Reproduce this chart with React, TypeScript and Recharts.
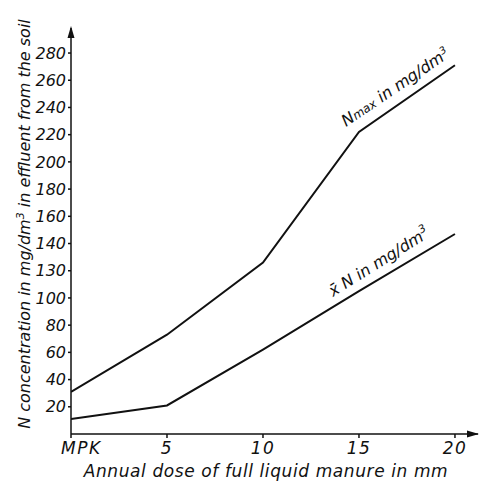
import React from 'react';
import { LineChart, Line, XAxis, YAxis } from 'recharts';

const doses = [0, 5, 10, 15, 20];
const nMax = [31, 73, 126, 222, 271];
const nMean = [11, 21, 62, 105, 147];
const xTickValues = [0, 5, 10, 15, 20];
const xTickLabels = ['MPK', '5', '10', '15', '20'];
const yTickValues = [20, 40, 60, 80, 100, 120, 140, 160, 180, 200, 220, 240, 260, 280];
const yTickLabels = ['20', '40', '60', '80', '100', '130', '140', '160', '180', '200', '220', '240', '260', '280'];

const data = doses.map((d, i) => ({ dose: d, nMax: nMax[i], nMean: nMean[i] }));

const FONT = '"DejaVu Sans", sans-serif';

const XTick = (props: any) => {
  const { x, y, payload } = props;
  const idx = xTickValues.indexOf(payload.value);
  const label = xTickLabels[idx];
  const isFirst = idx === 0;
  return (
    <text
      x={isFirst ? x - 10 : x}
      y={y}
      dy="0.71em"
      textAnchor={isFirst ? 'start' : 'middle'}
      fontFamily={FONT}
      fontStyle="italic"
      fontSize={17}
      letterSpacing={1.5}
      fill="#111"
    >
      {label}
    </text>
  );
};

export default function App() {
  return (
    <div style={{ position: 'absolute', left: 0, top: 0, width: 480, height: 482, background: '#fff' }}>
      <LineChart width={480} height={482} data={data} margin={{ top: 28, right: 2, bottom: 0, left: 0 }}>
        <XAxis
          dataKey="dose"
          type="number"
          domain={[0, 21.2]}
          ticks={xTickValues}
          allowDataOverflow
          height={48}
          tickSize={4}
          tickMargin={4}
          stroke="#111"
          strokeWidth={1.5}
          tick={<XTick />}
        />
        <YAxis
          type="number"
          domain={[0, 298.4]}
          ticks={yTickValues}
          allowDataOverflow
          width={71}
          tickSize={3}
          tickMargin={2}
          stroke="#111"
          strokeWidth={1.5}
          tickFormatter={(v: number) => yTickLabels[yTickValues.indexOf(v)]}
          tick={{ fontFamily: FONT, fontStyle: 'italic', fontSize: 16, fill: '#111' }}
        />
        <Line type="linear" dataKey="nMax" stroke="#111" strokeWidth={2} dot={false} isAnimationActive={false} />
        <Line type="linear" dataKey="nMean" stroke="#111" strokeWidth={2} dot={false} isAnimationActive={false} />
      </LineChart>
      <svg
        width={480}
        height={482}
        style={{ position: 'absolute', left: 0, top: 0, pointerEvents: 'none' }}
        fontFamily={FONT}
        fontStyle="italic"
        fill="#111"
      >
        <polygon points="71,26 67.5,38 74.5,38" fill="#111" />
        <polygon points="479,434 467,430.5 467,437.5" fill="#111" />
        <text x={266} y={477} textAnchor="middle" fontSize={17} letterSpacing={0.6}>
          Annual dose of full liquid manure in mm
        </text>
        <text
          x={0}
          y={0}
          transform="translate(30,224) rotate(-90)"
          textAnchor="middle"
          fontSize={16}
          letterSpacing={0}
        >
          N concentration in mg/dm<tspan fontSize={11} dy={-6}>3</tspan>
          <tspan dy={6}> in effluent from the soil</tspan>
        </text>
        <text x={0} y={0} transform="translate(346,127) rotate(-34)" fontSize={16}>
          N<tspan fontSize={12}>max</tspan> in mg/dm<tspan fontSize={10} dy={-6}>3</tspan>
        </text>
        <text x={0} y={0} transform="translate(333,297) rotate(-32)" fontSize={16}>
          {'x\u0304'} N in mg/dm<tspan fontSize={11} dy={-7}>3</tspan>
        </text>
      </svg>
    </div>
  );
}
